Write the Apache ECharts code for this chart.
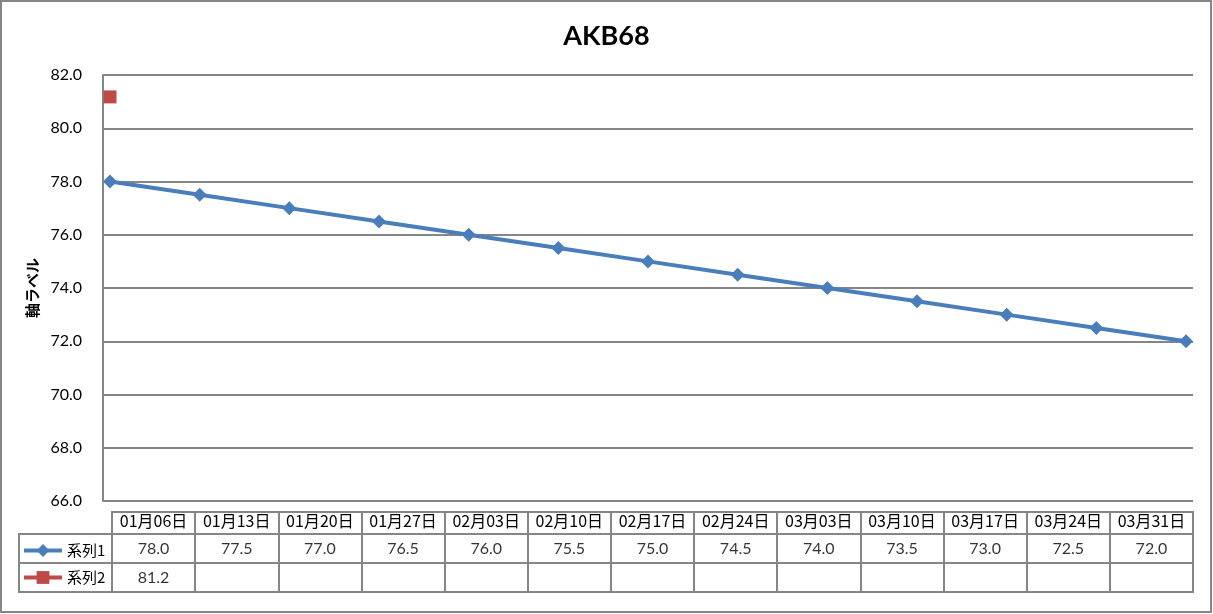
<!DOCTYPE html>
<html><head><meta charset="utf-8">
<script src="https://cdn.jsdelivr.net/npm/echarts@6/dist/echarts.min.js"></script>
<style>html,body{margin:0;padding:0;background:#fff}#c{width:1213px;height:614px}</style>
</head><body><div id="c"></div>
<script>
const title = 'AKB68';
const yAxisName = '軸ラベル';
const categories = ['01月06日','01月13日','01月20日','01月27日','02月03日','02月10日','02月17日','02月24日','03月03日','03月10日','03月17日','03月24日','03月31日'];
const series1Name = '系列1';
const series1 = [78.0,77.5,77.0,76.5,76.0,75.5,75.0,74.5,74.0,73.5,73.0,72.5,72.0];
const series2Name = '系列2';
const series2 = [81.2];
const yTicks = {min: 66, max: 82, interval: 2};

const GRAY = '#868686';
const BLUE = '#4A7EBB';
const RED = '#BE4B48';
const rows = [series1Name, series2Name];

const chart = echarts.init(document.getElementById('c'), null, {renderer: 'canvas'});

const tableData = [];
series1.forEach((v, i) => tableData.push([i, series1Name, v]));
series2.forEach((v, i) => tableData.push([i, series2Name, v]));

chart.setOption({
  backgroundColor: '#fff',
  animation: false,
  title: {text: title, left: 'center', top: 18,
    textStyle: {fontFamily: 'Lato', fontWeight: 'bold', fontSize: 27, color: '#000'}},
  legend: {
    orient: 'vertical', left: 17, top: 538, itemWidth: 38, itemHeight: 16, itemGap: 12,
    data: [series1Name, series2Name],
    lineStyle: {width: 4},
    textStyle: {fontFamily: 'Noto Sans CJK JP', fontSize: 15, color: '#000'}
  },
  graphic: [{type: 'rect', shape: {x: 1, y: 1, width: 1210, height: 611}, silent: true,
    style: {fill: 'none', stroke: GRAY, lineWidth: 2}}],
  grid: [
    {left: 103, top: 75, width: 1090, height: 426},
    {left: 112, top: 512, width: 1081, height: 22, show: true, borderColor: GRAY, borderWidth: 2},
    {left: 112, top: 534, width: 1081, height: 58, show: true, borderColor: GRAY, borderWidth: 2},
    {left: 19, top: 534, width: 93, height: 58, show: true, borderColor: GRAY, borderWidth: 2}
  ],
  xAxis: [
    {type: 'value', gridIndex: 0, min: -0.078, max: 12.078, show: false},
    {type: 'category', gridIndex: 1, data: categories, boundaryGap: true,
      axisLine: {show: false}, axisTick: {show: false}, axisLabel: {show: false, interval: 0},
      splitLine: {show: true, interval: 0, lineStyle: {color: GRAY, width: 2}}},
    {type: 'category', gridIndex: 2, data: categories, boundaryGap: true, position: 'top',
      axisLine: {show: false}, axisTick: {show: false},
      axisLabel: {show: true, interval: 0, margin: 5, fontFamily: 'Noto Sans CJK JP', fontSize: 16, color: '#000'},
      splitLine: {show: true, interval: 0, lineStyle: {color: GRAY, width: 2}}},
    {type: 'value', gridIndex: 3, show: false, min: 0, max: 1}
  ],
  yAxis: [
    {type: 'value', gridIndex: 0, min: yTicks.min, max: yTicks.max, interval: yTicks.interval,
      name: yAxisName, nameLocation: 'middle', nameRotate: 90, nameGap: 60,
      nameTextStyle: {fontFamily: 'Noto Sans CJK JP', fontWeight: 'bold', fontSize: 15, color: '#000'},
      axisLine: {show: true, onZero: false, lineStyle: {color: GRAY, width: 2}},
      axisTick: {show: false},
      axisLabel: {margin: 21, fontFamily: 'Lato', fontSize: 16, color: '#000', formatter: v => v.toFixed(1)},
      splitLine: {show: true, lineStyle: {color: GRAY, width: 2}}},
    {type: 'value', gridIndex: 0, min: 0, max: 85.6, show: false, splitLine: {show: false}},
    {type: 'value', gridIndex: 1, show: false, min: 0, max: 1},
    {type: 'category', gridIndex: 2, data: rows, inverse: true, boundaryGap: true,
      axisLine: {show: false}, axisTick: {show: false}, axisLabel: {show: false, interval: 0},
      splitLine: {show: true, interval: 0, lineStyle: {color: GRAY, width: 2}}},
    {type: 'category', gridIndex: 3, data: rows, inverse: true, boundaryGap: true,
      axisLine: {show: false}, axisTick: {show: false}, axisLabel: {show: false, interval: 0},
      splitLine: {show: true, interval: 0, lineStyle: {color: GRAY, width: 2}}}
  ],
  series: [
    {name: series1Name, type: 'line', xAxisIndex: 0, yAxisIndex: 0,
      data: series1.map((v, i) => [i, v]),
      symbol: 'diamond', symbolSize: 14, lineStyle: {color: BLUE, width: 4},
      itemStyle: {color: BLUE}},
    {name: series2Name, type: 'line', xAxisIndex: 0, yAxisIndex: 1,
      data: series2.map((v, i) => [i, v]),
      symbol: 'rect', symbolSize: 13, lineStyle: {color: RED, width: 4},
      itemStyle: {color: RED}},
    {name: 'table', type: 'scatter', xAxisIndex: 2, yAxisIndex: 3,
      data: tableData, symbol: 'circle', symbolSize: 1,
      itemStyle: {color: 'rgba(0,0,0,0)'},
      label: {show: true, position: 'inside', formatter: p => p.value[2].toFixed(1),
        fontFamily: 'Lato', fontSize: 16, color: '#000'}}
  ]
});
</script></body></html>
